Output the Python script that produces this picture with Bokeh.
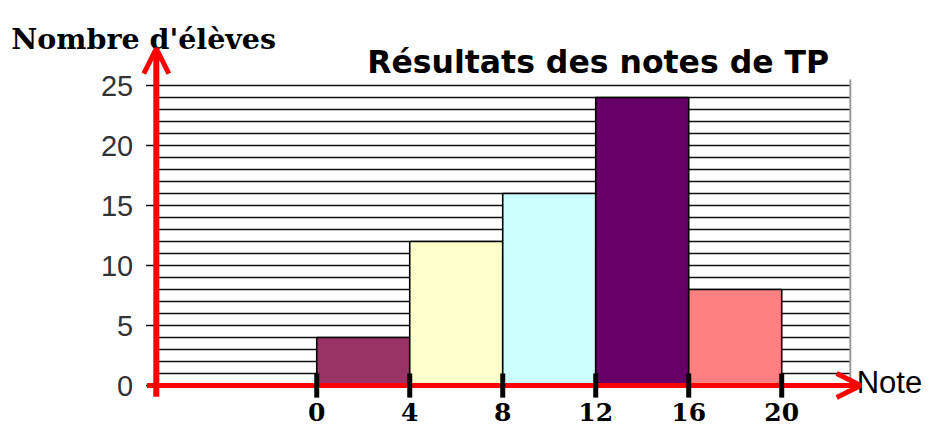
from bokeh.plotting import figure
from bokeh.models import Range1d, Arrow, OpenHead, ColumnDataSource
from bokeh.core.properties import value
from bokeh.embed import file_html
from bokeh.resources import INLINE

# ---------------- data ----------------
class_edges = [0, 4, 8, 12, 16, 20]
counts = [4, 12, 16, 24, 8]
bar_colors = ["#993366", "#FFFFCC", "#CCFFFF", "#660066", "#FF8080"]
y_ticks = [0, 5, 10, 15, 20, 25]
y_tick_labels = ["0", "5", "10", "15", "20", "25"]
x_tick_labels = ["0", "4", "8", "12", "16", "20"]
grid_levels = list(range(1, 26))
title_text = "Résultats des notes de TP"
y_title = "Nombre d'élèves"
x_title = "Note"

# ---------------- layout (reference pixel geometry -> data ranges) ----------------
W, H = 927, 427
REF_W, REF_H = 943, 443
PPU_X, PPU_Y = 23.65, 12.45            # reference pixels per data unit
ORIGIN_PX, ORIGIN_PY = 321.7, 399.5    # reference pixel position of (0, 0)
x_lo = -ORIGIN_PX / PPU_X
x_hi = x_lo + REF_W / PPU_X
y_hi = ORIGIN_PY / PPU_Y
y_lo = y_hi - REF_H / PPU_Y


def dx(px):
    return x_lo + px / PPU_X


def dy(py):
    return y_hi - py / PPU_Y


axis_x = dx(158.5)
right_x = dx(864.5)

p = figure(width=W, height=H, x_range=Range1d(x_lo, x_hi), y_range=Range1d(y_lo, y_hi),
           x_axis_location=None, y_axis_location=None, toolbar_location=None,
           output_backend="svg", min_border=0, outline_line_color=None,
           background_fill_color="white", border_fill_color="white")
p.grid.visible = False

# horizontal ruling
p.segment(x0=[axis_x] * len(grid_levels), x1=[right_x] * len(grid_levels),
          y0=grid_levels, y1=grid_levels, line_color="#111111", line_width=1.4)
# y major ticks (left of axis)
p.segment(x0=[dx(148)] * len(y_ticks), x1=[axis_x] * len(y_ticks),
          y0=y_ticks, y1=y_ticks, line_color="#111111", line_width=1.4)

# bars
src = ColumnDataSource(dict(left=class_edges[:-1], right=class_edges[1:], top=counts,
                            bottom=[0] * len(counts), color=bar_colors))
p.quad(left="left", right="right", top="top", bottom="bottom", fill_color="color",
       line_color="black", line_width=1.6, source=src)

# right gray border
p.segment(x0=[right_x], x1=[right_x], y0=[0], y1=[dy(82)], line_color="#9a9a9a", line_width=2)

# red axes with arrows
p.add_layout(Arrow(x_start=dx(149), y_start=0, x_end=dx(875), y_end=0,
                   line_color="red", line_width=5,
                   end=OpenHead(size=24, line_color="red", line_width=5)))
p.add_layout(Arrow(x_start=axis_x, y_start=dy(411), x_end=axis_x, y_end=dy(50),
                   line_color="red", line_width=6,
                   end=OpenHead(size=25, line_color="red", line_width=5)))

# x tick marks (drawn above the red axis)
p.segment(x0=class_edges, x1=class_edges, y0=[dy(387)] * len(class_edges),
          y1=[dy(412)] * len(class_edges), line_color="black", line_width=5,
          level="overlay")

# tick labels
p.text(x=class_edges, y=[dy(436)] * len(class_edges), text=x_tick_labels,
       text_font=value("DejaVu Serif"), text_font_style="bold", text_font_size="25px",
       text_align="center", text_baseline="bottom", text_color="black")
p.text(x=[dx(135)] * len(y_ticks), y=y_ticks, text=y_tick_labels,
       text_font=value("Liberation Sans"), text_font_size="29px",
       text_align="right", text_baseline="middle", text_color="#333333")

# titles
p.text(x=[dx(373)], y=[dy(63.5)], text=[title_text],
       text_font=value("DejaVu Sans"), text_font_style="bold", text_font_size="31.5px",
       text_align="left", text_baseline="alphabetic", text_color="black")
p.text(x=[dx(11)], y=[dy(39.5)], text=[y_title],
       text_font=value("DejaVu Serif"), text_font_style="bold", text_font_size="28.5px",
       text_align="left", text_baseline="alphabetic", text_color="black")
p.text(x=[dx(871)], y=[dy(396.5)], text=[x_title],
       text_font=value("Liberation Sans"), text_font_size="31px",
       text_align="left", text_baseline="alphabetic", text_color="black")

open("out.html", "w").write(file_html(p, INLINE))
